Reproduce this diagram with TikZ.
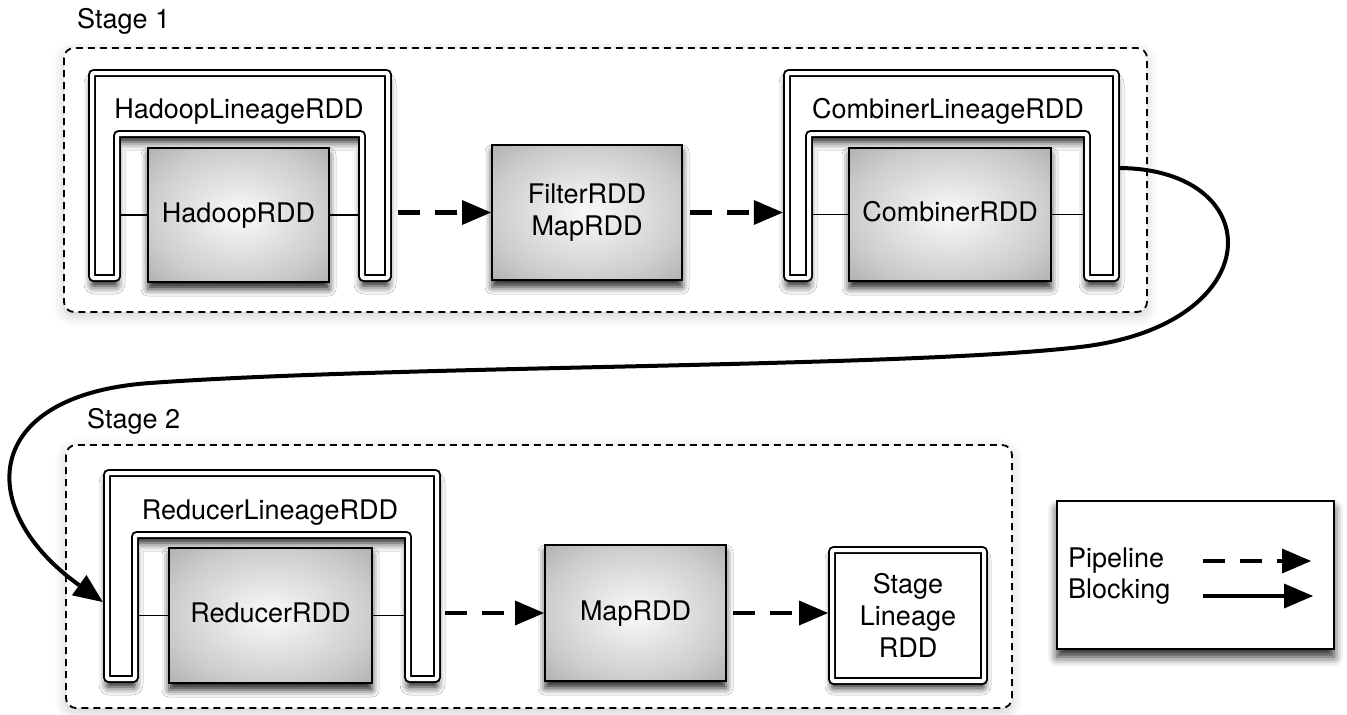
\documentclass[tikz,border=0pt]{standalone}
\usepackage{fontspec}
\setmainfont{TeX Gyre Heros}
\usetikzlibrary{arrows.meta,shadows.blur,calc}
\definecolor{rdin}{gray}{0.98}
\definecolor{rdmid}{gray}{0.80}
\definecolor{rdout}{gray}{0.70}
\pgfdeclareradialshading{rddshade}{\pgfpoint{0bp}{0bp}}{color(0bp)=(rdin); color(25bp)=(rdmid); color(35bp)=(rdout); color(50bp)=(rdout)}
\tikzset{
  stagebox/.style={draw=black, line width=1.8pt, dash pattern=on 7pt off 5pt, rounded corners=10pt, fill=white,
    blur shadow={shadow xshift=0pt, shadow yshift=-4pt, shadow blur radius=11pt, shadow opacity=20}},
  stagelabel/.style={anchor=base west, inner sep=0pt},
  frame/.style={draw=none, inner sep=0pt},
  lineage/.style={draw=black, line width=1.9pt, double=white, double distance=4pt, rounded corners=2pt, fill=white,
    blur shadow={shadow xshift=0pt, shadow yshift=-8pt, shadow blur radius=8pt, shadow opacity=90}},
  rddbox/.style={draw=black, line width=2pt, shading=rddshade, inner sep=0pt,
    blur shadow={shadow xshift=0pt, shadow yshift=-7pt, shadow blur radius=7pt, shadow opacity=85}},
  oneline/.style={text height=19.5pt, text depth=5.5pt},
  dblbox/.style={draw=black, line width=1.9pt, double=white, double distance=4pt, rounded corners=2pt, fill=white, inner sep=0pt,
    blur shadow={shadow xshift=0pt, shadow yshift=-7pt, shadow blur radius=7pt, shadow opacity=85}},
  legendbox/.style={draw=black, line width=2pt, fill=white, inner sep=0pt,
    blur shadow={shadow xshift=0pt, shadow yshift=-8pt, shadow blur radius=9pt, shadow opacity=85}},
  lbl/.style={anchor=base, inner sep=0pt},
  lgtext/.style={anchor=base west, inner sep=0pt},
  tie/.style={draw=black, line width=1.7pt},
  tip/.tip={Triangle[length=29pt,width=25pt,line width=0pt,fill=black,color=black]},
  pipe/.style={draw=black, line width=4.5pt, dash pattern=on 22pt off 15pt, -tip},
  block/.style={draw=black, line width=4pt, -tip}
}
\begin{document}
\begin{tikzpicture}[x=1pt,y=-1pt,font=\fontsize{27}{32}\selectfont]
\useasboundingbox (0,0) rectangle (1347,715);
% stages
\draw[stagebox] (64,48) rectangle (1147,312);
\draw[stagebox] (66,445) rectangle (1012,708);
\node[stagelabel] (s1) at (77,28) {Stage 1};
\node[stagelabel] (s2) at (87,428) {Stage 2};
% lineage frames
\node[frame, minimum width=304pt, minimum height=213pt] (hlin) at (240,175.5) {};
\node[frame, minimum width=337pt, minimum height=213pt] (clin) at (951.5,175.5) {};
\node[frame, minimum width=338pt, minimum height=214pt] (rlin) at (272,576) {};
\draw[lineage] (92,278) -- (92,73) -- (388,73) -- (388,278) -- (362,278) -- (362,134) -- (117,134) -- (117,278) -- cycle;
\draw[lineage] (787,278) -- (787,73) -- (1116,73) -- (1116,278) -- (1087,278) -- (1087,134) -- (809,134) -- (809,278) -- cycle;
\draw[lineage] (107,679) -- (107,473) -- (437,473) -- (437,679) -- (408,679) -- (408,535) -- (135,535) -- (135,679) -- cycle;
\node[lbl] (hlintext) at (239,118) {HadoopLineageRDD};
\node[lbl] (clintext) at (948,118) {CombinerLineageRDD};
\node[lbl] (rlintext) at (270,519) {ReducerLineageRDD};
% rdd boxes
\node[rddbox, oneline, minimum width=181pt, minimum height=134pt] (hadoop) at (238.5,215) {HadoopRDD};
\node[rddbox, minimum width=190pt, minimum height=135pt, align=center] (filter) at (587,212.5) {FilterRDD\\MapRDD};
\node[rddbox, oneline, minimum width=202pt, minimum height=133pt] (combiner) at (950,214.5) {CombinerRDD};
\node[rddbox, oneline, minimum width=203pt, minimum height=135pt] (reducer) at (270.5,615.5) {ReducerRDD};
\node[rddbox, oneline, minimum width=181pt, minimum height=136pt] (map) at (635.5,613) {MapRDD};
\node[dblbox, minimum width=152pt, minimum height=131pt, align=center] (stagelin) at (908,615.5) {Stage\\Lineage\\RDD};
\node[legendbox, minimum width=277pt, minimum height=148pt] (legend) at (1195.5,575) {};
% ties inside lineage
\draw[tie] (hadoop.west) -- +(-27,0);
\draw[tie] (hadoop.east) -- +(28,0);
\draw[tie] (combiner.west) -- +(-35,0);
\draw[tie] (combiner.east) -- +(31,0);
\draw[tie] (reducer.west) -- +(-29,0);
\draw[tie] (reducer.east) -- +(31,0);
% pipeline arrows
\draw[pipe, shorten <=6pt] (hlin.east |- filter.west) -- (filter.west);
\draw[pipe, shorten <=7pt] (filter.east) -- (clin.west |- filter.east);
\draw[pipe, shorten <=4pt] (rlin.east |- map.west) -- (map.west);
\draw[pipe, shorten <=6pt, shorten >=3pt] (map.east) -- (stagelin.west |- map.east);
% blocking curve
\draw[block] ([yshift=7.5pt]clin.east) .. controls (1270,170) and (1270,325) .. (1080,347)
  .. controls (900,368) and (400,365) .. (150,383)
  .. controls (-20,395) and (-26,510) .. ([yshift=-26pt]rlin.west);
% legend
\node[lgtext] (pl) at (1068,567) {Pipeline};
\node[lgtext] (bl) at (1068,598) {Blocking};
\coordinate (pa) at (1203,561);
\coordinate (pb) at (1311,561);
\coordinate (ba) at (1203,596);
\coordinate (bb) at (1313,596);
\draw[pipe] (pa) -- (pb);
\draw[block] (ba) -- (bb);
\end{tikzpicture}
\end{document}
